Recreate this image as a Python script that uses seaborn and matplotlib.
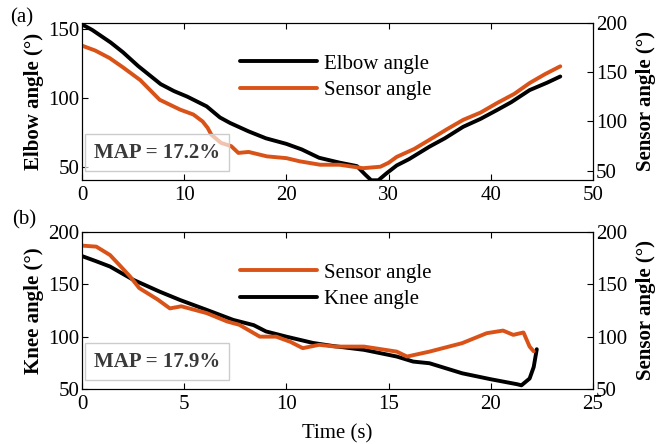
import seaborn as sns
import matplotlib.pyplot as plt

'''values read off the reference picture'''
# (a) elbow angle on left axis, sensor angle on right axis
elbow_t = [0, 1, 2.8, 4, 5.5, 7.7, 9, 10.3, 12.2, 13.5, 14.5, 16.3, 18, 20, 21.5, 23.2,
           25.2, 26.9, 27.7, 28.3, 29.0, 29.8, 30.8, 32, 34, 35.5, 37.3, 39, 40.6, 42,
           43.8, 45.5, 46.8]
elbow_deg = [153, 149, 140, 133, 123, 110, 105, 101, 94, 86, 82, 76, 71, 67, 63, 57,
             53.5, 51, 45, 40.8, 40.8, 45.8, 51.5, 56, 65, 71, 79.3, 85, 91.3, 97,
             105.7, 111, 115.5]
sensor_a_t = [0, 1.3, 2.7, 4, 5.7, 7.6, 9.6, 10.9, 11.8, 12.3, 12.65, 13.6, 14.6, 15.3,
              16.3, 18.1, 20, 21.3, 23.3, 25.2, 27.5, 29.2, 30, 30.8, 32.5, 34, 35.7,
              37.3, 39, 40.6, 42.3, 43.8, 45.3, 46.8]
sensor_a_deg = [177, 172, 164.4, 155, 142, 122, 112, 107, 100, 93.4, 86.6, 78.2, 74.9, 68,
                69, 64.5, 62.7, 59.5, 56, 56, 52.5, 54, 58, 64, 72, 81.3, 92,
                101.6, 109, 118.6, 128, 139, 148, 156]

# (b) knee angle on left axis, sensor angle on right axis
knee_t = [0, 0.7, 1.37, 2.5, 3.8, 4.8, 6.1, 7.4, 8.4, 9.0, 10, 11.3, 12.3, 13.8, 14.6,
          15.4, 16.2, 17, 18.6, 20, 21.3, 21.5, 21.9, 22.1, 22.25]
knee_deg = [177, 172, 167, 154.4, 143, 135, 125.6, 116, 111, 105, 100, 94, 91, 87.4, 84.2,
            81, 76.2, 74.6, 65, 59.3, 54.5, 53.5, 60, 71, 88]
sensor_b_t = [0, 0.7, 1.37, 1.9, 2.35, 2.8, 3.7, 4.3, 4.86, 6.1, 7.1, 7.7, 8.7, 9.5, 10.2,
              10.8, 11.6, 12.4, 13.8, 15.4, 15.9, 17, 18.6, 19.8, 20.6, 21.1, 21.6, 21.9,
              22.1]
sensor_b_deg = [187, 186, 178, 167, 157.5, 146.4, 135.5, 127, 129, 122.5, 114.5, 111.3, 100,
                100, 95, 89, 92.2, 90.5, 90.5, 85.7, 81, 85.7, 93.8, 103.3, 105.8, 101.7,
                104, 90.5, 86]

orange = '#D95319'

sns.set_style('ticks')
plt.rcParams['font.family'] = ['Liberation Serif', 'DejaVu Serif']
plt.rcParams['font.size'] = 15
plt.rcParams['text.color'] = 'black'
plt.rcParams['axes.labelcolor'] = 'black'
plt.rcParams['axes.edgecolor'] = 'black'
plt.rcParams['axes.linewidth'] = 0.8
plt.rcParams['xtick.color'] = 'black'
plt.rcParams['ytick.color'] = 'black'
plt.rcParams['xtick.direction'] = 'in'
plt.rcParams['ytick.direction'] = 'in'
plt.rcParams['xtick.major.size'] = 4
plt.rcParams['ytick.major.size'] = 4
plt.rcParams['xtick.major.width'] = 0.8
plt.rcParams['ytick.major.width'] = 0.8
plt.rcParams['xtick.major.pad'] = 4
plt.rcParams['ytick.major.pad'] = 2

fig = plt.figure(figsize=(6.65, 4.44), dpi=100)
ax_a = fig.add_axes([0.1233, 0.5946, 0.7684, 0.3536])
ax_b = fig.add_axes([0.1233, 0.1239, 0.7684, 0.3536])


def make_panel(ax, t1, y1, lab1, t2, y2, lab2, left_lim, left_ticks, right_lim,
               xmax, xticks, left_label, map_text, legend_order):
    ax_r = ax.twinx()
    sns.lineplot(x=t1, y=y1, ax=ax, color='black', linewidth=2.8, sort=False,
                 errorbar=None, legend=False)
    line1 = ax.get_lines()[-1]
    sns.lineplot(x=t2, y=y2, ax=ax_r, color=orange, linewidth=2.8, sort=False,
                 errorbar=None, legend=False)
    line2 = ax_r.get_lines()[-1]

    ax.set_xlim(0, xmax)
    ax.set_xticks(xticks)
    ax.set_ylim(*left_lim)
    ax.set_yticks(left_ticks)
    ax_r.set_ylim(*right_lim)
    ax_r.set_yticks([50, 100, 150, 200])
    ax.tick_params(axis='x', top=True)
    for sp in ax.spines.values():
        sp.set_visible(True)
    for sp in ax_r.spines.values():
        sp.set_visible(True)

    ax.set_ylabel(left_label, fontweight='bold')
    ax_r.set_ylabel('Sensor angle (°)', fontweight='bold')
    ax.yaxis.set_label_coords(-0.075, 0.5)
    ax_r.yaxis.set_label_coords(1.085, 0.5)

    handles = {'a': line1, 'b': line2}
    labels = {'a': lab1, 'b': lab2}
    ax_r.legend([handles[k] for k in legend_order], [labels[k] for k in legend_order],
                loc='center left', bbox_to_anchor=(0.309, 0.655), frameon=False,
                borderaxespad=0, borderpad=0, handlelength=3.7, handletextpad=0.35,
                labelspacing=0.35, fontsize=15)

    ax_r.text(0.147, 0.175, map_text, transform=ax.transAxes, ha='center', va='center',
              fontweight='bold', color='#3a3a3a', fontsize=15,
              bbox=dict(boxstyle='square,pad=0.42', fc=(1, 1, 1, 0.65), ec='#cccccc', lw=1))
    return ax_r


make_panel(ax_a, elbow_t, elbow_deg, 'Elbow angle', sensor_a_t, sensor_a_deg,
           'Sensor angle', (41, 154), [50, 100, 150], (40.5, 200), 50,
           [0, 10, 20, 30, 40, 50], 'Elbow angle (°)', 'MAP = 17.2%', ['a', 'b'])
make_panel(ax_b, knee_t, knee_deg, 'Knee angle', sensor_b_t, sensor_b_deg,
           'Sensor angle', (50, 200), [50, 100, 150, 200], (50, 200), 25,
           [0, 5, 10, 15, 20, 25], 'Knee angle (°)', 'MAP = 17.9%', ['b', 'a'])

ax_b.set_xlabel('Time (s)', labelpad=8)

fig.text(0.015, 0.96, '(a)', ha='left', va='center', fontsize=15)
fig.text(0.018, 0.505, '(b)', ha='left', va='center', fontsize=15)

plt.savefig('out.png', dpi=100)
